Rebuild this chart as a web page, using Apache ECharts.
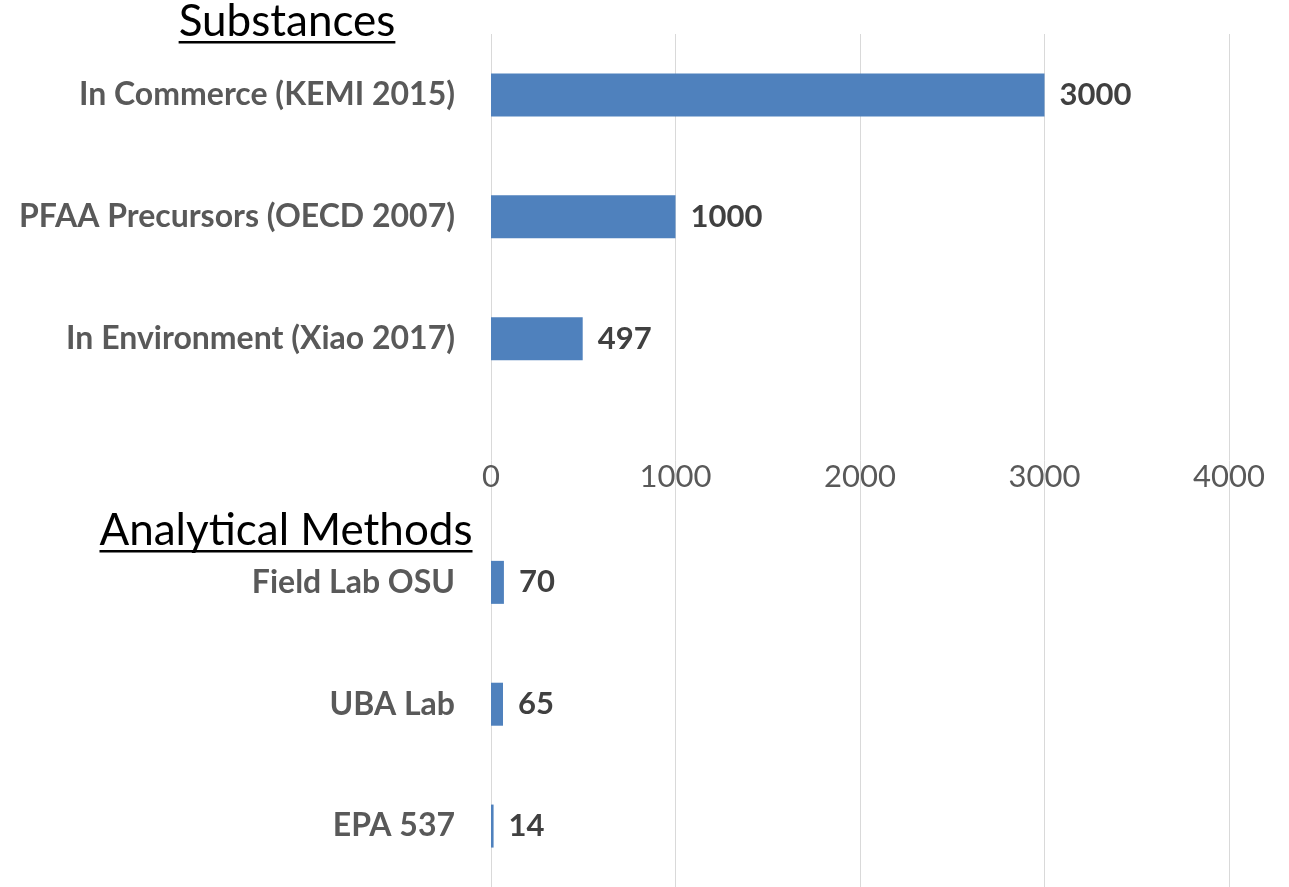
<!DOCTYPE html>
<html>
<head>
<meta charset="utf-8">
<script src="https://cdn.jsdelivr.net/npm/echarts@6/dist/echarts.min.js"></script>
<style>
html,body{margin:0;padding:0;background:#fff;}
#main{width:1289px;height:887px;}
</style>
</head>
<body>
<div id="main"></div>
<script>
// ---- data ----
var substanceNames = ["In Commerce (KEMI 2015)", "PFAA Precursors (OECD 2007)", "In Environment (Xiao 2017)"];
var substanceValues = [3000, 1000, 497];
var methodNames = ["Field Lab OSU", "UBA Lab", "EPA 537"];
var methodValues = [70, 65, 14];
var sectionTitles = ["Substances", "Analytical Methods"];
var xTicks = [0, 1000, 2000, 3000, 4000];

var categories = substanceNames.concat([""], methodNames);
var values = substanceValues.concat([null], methodValues);

var titleFont = '44px Lato';
function textWidth(t, f) {
  var c = document.createElement('canvas').getContext('2d');
  c.font = f; return c.measureText(t).width;
}
function titleGraphic(text, cx, baseline) {
  var w = textWidth(text, titleFont);
  return {
    type: 'group',
    children: [
      { type: 'text', style: { text: text, x: cx, y: baseline + 7, font: titleFont, fill: '#000', align: 'center', verticalAlign: 'bottom' } },
      { type: 'rect', shape: { x: cx - w / 2, y: baseline + 4, width: w, height: 2.5 }, style: { fill: '#000' } }
    ]
  };
}

var chart = echarts.init(document.getElementById('main'), null, { renderer: 'canvas' });
chart.setOption({
  animation: false,
  backgroundColor: '#fff',
  grid: [
    { left: 491, right: 60, top: 34, height: 857 },
    { left: 491, right: 60, top: 34, height: 428 }
  ],
  xAxis: [
    { type: 'value', gridIndex: 0, min: xTicks[0], max: xTicks[xTicks.length - 1], interval: 1000,
      axisLine: { show: false }, axisTick: { show: false }, axisLabel: { show: false },
      splitLine: { show: true, lineStyle: { color: '#D9D9D9', width: 1 } } },
    { type: 'value', gridIndex: 1, min: xTicks[0], max: xTicks[xTicks.length - 1], interval: 1000,
      axisLine: { show: false }, axisTick: { show: false }, splitLine: { show: false },
      axisLabel: { show: true, margin: -1, color: '#595959', fontFamily: 'Lato', fontSize: 31,
        formatter: function (v) { return String(v); } } }
  ],
  yAxis: [
    { type: 'category', gridIndex: 0, data: categories, inverse: true,
      axisLine: { show: false }, axisTick: { show: false },
      axisLabel: { margin: 36, color: '#595959', fontFamily: 'Lato', fontWeight: 'bold', fontSize: 32 } },
    { type: 'value', gridIndex: 1, show: false }
  ],
  series: [{
    type: 'bar', xAxisIndex: 0, yAxisIndex: 0, data: values, barWidth: 43,
    itemStyle: { color: '#4F81BD' },
    label: { show: true, position: 'right', distance: 15, color: '#404040', fontFamily: 'Lato', fontWeight: 'bold', fontSize: 31 }
  }],
  graphic: [ titleGraphic(sectionTitles[0], 287, 37), titleGraphic(sectionTitles[1], 286, 546) ]
});
</script>
</body>
</html>
